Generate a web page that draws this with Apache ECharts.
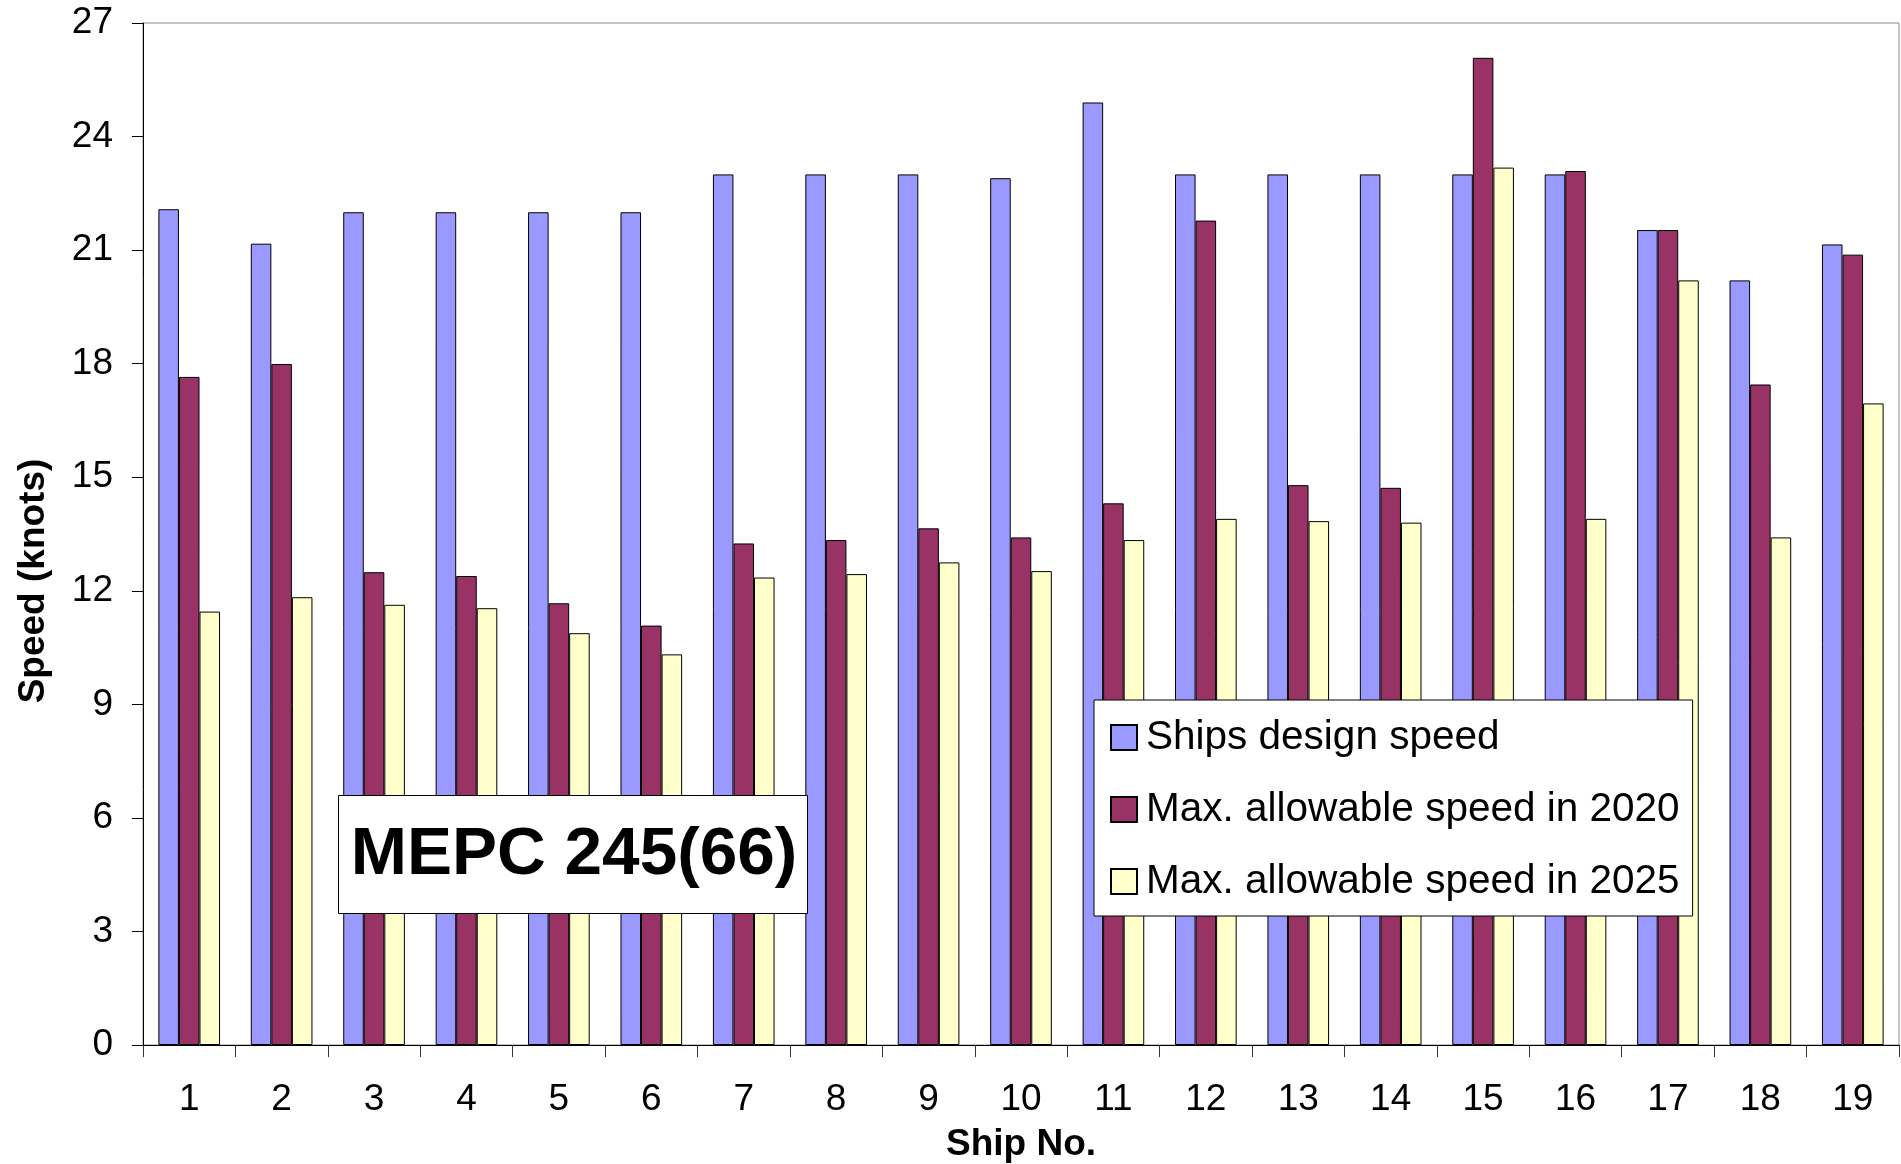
<!DOCTYPE html>
<html>
<head>
<meta charset="utf-8">
<script src="https://cdn.jsdelivr.net/npm/echarts@6/dist/echarts.min.js"></script>
<style>
  html, body { margin: 0; padding: 0; background: #fff; }
  #chart { width: 1901px; height: 1164px; }
</style>
</head>
<body>
<div id="chart"></div>
<script>
// Ship numbers along the x axis
const ships = ['1','2','3','4','5','6','7','8','9','10','11','12','13','14','15','16','17','18','19'];

// Speeds in knots
const designSpeed   = [22.08, 21.17, 22.0, 22.0, 22.0, 22.0, 23.0, 23.0, 23.0, 22.9, 24.9, 23.0, 23.0, 23.0, 23.0, 23.0, 21.53, 20.2, 21.15];
const maxSpeed2020  = [17.65, 17.99, 12.49, 12.39, 11.67, 11.08, 13.25, 13.34, 13.65, 13.41, 14.31, 21.78, 14.79, 14.72, 26.08, 23.09, 21.53, 17.45, 20.88];
const maxSpeed2025  = [11.45, 11.83, 11.63, 11.54, 10.88, 10.32, 12.35, 12.44, 12.75, 12.52, 13.34, 13.9, 13.84, 13.8, 23.18, 13.9, 20.2, 13.41, 16.95];

const seriesNames = ['Ships design speed', 'Max. allowable speed in 2020', 'Max. allowable speed in 2025'];
const seriesColors = ['#9999FF', '#993366', '#FFFFCC'];
const seriesData = [designSpeed, maxSpeed2020, maxSpeed2025];

const FONT = '"Liberation Sans", Arial, Helvetica, sans-serif';

const chart = echarts.init(document.getElementById('chart'), null, { renderer: 'canvas' });

chart.setOption({
  animation: false,
  backgroundColor: '#ffffff',
  textStyle: { fontFamily: FONT, color: '#000' },
  grid: {
    left: 143, right: 2, top: 23, bottom: 119,
    containLabel: false,
    outerBoundsMode: 'none',
    show: true, borderColor: '#8c8c8c', borderWidth: 1, backgroundColor: 'transparent'
  },
  legend: {
    orient: 'vertical',
    left: 1094, top: 700,
    data: seriesNames,
    icon: 'rect',
    itemWidth: 26, itemHeight: 25,
    itemGap: 31,
    padding: [17, 13, 14, 16],
    backgroundColor: '#ffffff',
    borderColor: '#000', borderWidth: 1,
    textStyle: { fontFamily: FONT, fontSize: 40.5, color: '#000', lineHeight: 40, padding: [0, 0, 0, 4] }
  },
  xAxis: {
    type: 'category',
    data: ships,
    name: 'Ship No.',
    nameLocation: 'middle',
    nameGap: 81,
    nameTextStyle: { fontFamily: FONT, fontSize: 37, fontWeight: 'bold', color: '#000' },
    axisLine: { lineStyle: { color: '#000', width: 1 } },
    axisTick: { show: true, length: 12, lineStyle: { color: '#333' } },
    axisLabel: { fontFamily: FONT, fontSize: 37, color: '#000', margin: 36 },
    splitLine: { show: false }
  },
  yAxis: {
    type: 'value',
    min: 0, max: 27, interval: 3,
    axisLine: { show: true, lineStyle: { color: '#000', width: 1 } },
    axisTick: { show: true, length: 11, lineStyle: { color: '#000' } },
    axisLabel: { fontFamily: FONT, fontSize: 37, color: '#000', margin: 30 },
    splitLine: { show: false }
  },
  series: seriesNames.map((name, i) => ({
    name: name,
    type: 'bar',
    data: seriesData[i],
    barGap: '0%',
    barCategoryGap: '33.3%',
    itemStyle: { color: seriesColors[i], borderColor: '#000', borderWidth: 1 }
  })),
  graphic: [
    // Vertical axis title
    { type: 'text', x: 34, y: 581, rotation: Math.PI / 2, z: 100,
      style: { text: 'Speed (knots)', fontFamily: FONT, fontSize: 37, fontWeight: 'bold',
               fill: '#000', align: 'center', verticalAlign: 'middle' } },
    // Resolution annotation box
    { type: 'rect', x: 338.5, y: 795.5, z: 100,
      shape: { x: 0, y: 0, width: 469, height: 118 },
      style: { fill: '#fff', stroke: '#000', lineWidth: 1 } },
    { type: 'text', x: 574, y: 855, z: 101,
      style: { text: 'MEPC 245(66)', fontFamily: FONT, fontSize: 67.5, fontWeight: 'bold',
               fill: '#000', align: 'center', verticalAlign: 'middle' } }
  ]
});
</script>
</body>
</html>
